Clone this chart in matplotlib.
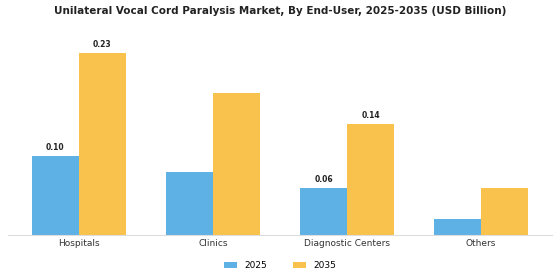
import numpy as np
import matplotlib.pyplot as plt

# datos del grafico
categorias = ["Hospitals", "Clinics", "Diagnostic Centers", "Others"]
valores_2025 = [0.10, 0.08, 0.06, 0.02]
valores_2035 = [0.23, 0.18, 0.14, 0.06]
etiquetas_2025 = ["0.10", "", "0.06", ""]
etiquetas_2035 = ["0.23", "", "0.14", ""]

azul = "#5DB1E5"
amarillo = "#F9C24C"

fig = plt.figure(figsize=(5.6, 2.8), dpi=100)
ax = fig.add_axes([0.014, 0.161, 0.972, 0.70])

x = np.arange(len(categorias))
ancho = 0.35

b1 = ax.bar(x - ancho/2, valores_2025, ancho, color=azul, label="2025")
b2 = ax.bar(x + ancho/2, valores_2035, ancho, color=amarillo, label="2035")

# etiquetas solo en algunas barras
for barra, txt in zip(list(b1) + list(b2), etiquetas_2025 + etiquetas_2035):
    if txt:
        ax.text(barra.get_x() + barra.get_width()/2, barra.get_height() + 0.005, txt,
                ha="center", va="bottom", fontsize=5.5, fontweight="bold", color="#222222")

ax.set_xlim(-0.53, 3.53)
ax.set_ylim(0, 0.248)
ax.set_xticks(x)
ax.set_xticklabels(categorias, fontsize=6.5, color="#333333")
ax.set_yticks([])
ax.tick_params(axis="x", length=0, pad=3)
for lado in ["top", "right", "left"]:
    ax.spines[lado].set_visible(False)
ax.spines["bottom"].set_color("#dddddd")
ax.spines["bottom"].set_linewidth(0.8)

fig.suptitle("Unilateral Vocal Cord Paralysis Market, By End-User, 2025-2035 (USD Billion)",
             fontsize=7.5, fontweight="bold", x=0.5, y=0.978, color="#222222")

fig.legend(loc="center", bbox_to_anchor=(0.5, 0.052), ncol=2, frameon=False,
           fontsize=6.5, handlelength=1.5, handleheight=0.6, columnspacing=2.8)

plt.savefig("out.png", dpi=100)
